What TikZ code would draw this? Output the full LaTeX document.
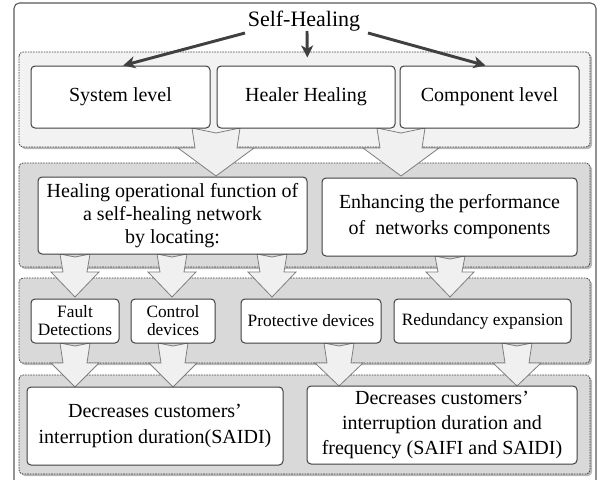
\documentclass[tikz,border=0pt]{standalone}
\usepackage{fontspec}
\setmainfont{Liberation Serif}
\usetikzlibrary{arrows.meta}
\definecolor{framecol}{HTML}{595959}
\definecolor{bandA}{HTML}{F2F2F2}
\definecolor{bandB}{HTML}{D9D9D9}
\definecolor{shadowcol}{HTML}{B8B8B8}
\definecolor{boxline}{HTML}{404040}
\definecolor{arrfill}{HTML}{F0F0F0}
\definecolor{arrline}{HTML}{7F7F7F}
\tikzset{
 bandbox/.style={draw=boxline, dash pattern=on 1.2pt off 0.8pt, line width=0.6pt, rounded corners=3pt},
 textbox/.style={draw=boxline, fill=white, line width=0.75pt, rounded corners=3pt, align=center, inner sep=0pt, font=\fontsize{15}{17.5}\selectfont},
 smallbox/.style={textbox, font=\fontsize{13}{13.5}\selectfont},
 blockarr/.style={draw=arrline, fill=arrfill, line width=0.6pt, line join=miter},
 titlearr/.style={draw=boxline, line width=2.2pt, -{Stealth[length=9pt,width=9pt,inset=2.5pt]}},
}
% cx, ytop, notch, ybase, ytip, shaft top half, shaft bottom half, head half
\newcommand\blkarrow[8]{%
 \path[blockarr] ({#1-#6},#2) -- (#1,{#2+#3}) -- ({#1+#6},#2) -- ({#1+#7},#4) -- ({#1+#8},#4) -- (#1,#5) -- ({#1-#8},#4) -- ({#1-#7},#4) -- cycle;}
% x1, y1, x2, y2, fill
\newcommand\bandrect[5]{%
 \fill[shadowcol, rounded corners=3pt] ({#1+2},{#2+2}) rectangle ({#3+2},{#4+2});
 \path[bandbox, fill=#5] (#1,#2) rectangle (#3,#4);}
\begin{document}
\begin{tikzpicture}[x=0.75pt,y=-0.75pt]
\useasboundingbox (0,0) rectangle (600,479);
\fill[white] (0,0) rectangle (600,479);
% outer frame
\draw[framecol, line width=0.8pt, rounded corners=4pt] (14,485) -- (14,3) -- (596,3) -- (596,485);
% bands
\bandrect{19}{52}{590}{147}{bandA}
\bandrect{19}{163}{590}{267}{bandB}
\bandrect{19}{278}{590}{363}{bandB}
\bandrect{19}{375}{590}{474}{bandB}
% block arrows
\blkarrow{216}{128}{5}{148}{176}{24}{21}{38}
\blkarrow{401}{128}{5}{148}{176}{24}{21}{38}
\blkarrow{75}{254}{3}{272}{297}{15}{12}{24}
\blkarrow{172}{254}{3}{272}{297}{15}{12}{24}
\blkarrow{272}{254}{3}{272}{297}{15}{12}{24}
\blkarrow{450}{256}{3}{272}{297}{15}{12}{24}
\blkarrow{75}{343}{3}{363}{387}{15}{12}{24}
\blkarrow{173}{343}{3}{363}{387}{15}{12}{24}
\blkarrow{339}{343}{3}{363}{386}{15}{12}{24}
\blkarrow{517}{343}{3}{363}{386}{15}{12}{24}
% boxes
\node[textbox, minimum width=134.25pt, minimum height=46.5pt] (sys) at (120.5,97) {System level};
\node[textbox, minimum width=133.5pt, minimum height=46.5pt] (heal) at (306,97) {Healer Healing};
\node[textbox, minimum width=134.25pt, minimum height=46.5pt] (comp) at (489.5,97) {Component level};
\node[textbox, minimum width=201.75pt, minimum height=57.75pt] (hof) at (172.5,215.5) {Healing operational function of\\a self-healing network\\by locating:};
\node[textbox, minimum width=191.25pt, minimum height=58.5pt, font=\fontsize{15}{19.5}\selectfont] (enh) at (449.5,217) {Enhancing the performance\\of\ \ networks components};
\node[smallbox, minimum width=66pt, minimum height=33pt] (fault) at (75,321) {Fault\\Detections};
\node[smallbox, minimum width=63pt, minimum height=33pt] (ctrl) at (173,321) {Control\\devices};
\node[smallbox, minimum width=105pt, minimum height=33pt] (prot) at (311,321) {Protective devices};
\node[smallbox, minimum width=132.75pt, minimum height=33pt] (red) at (482.5,321) {Redundancy expansion};
\node[textbox, minimum width=192pt, minimum height=58.5pt, font=\fontsize{15}{19.5}\selectfont] (dec1) at (155,426) {Decreases customers’\\interruption duration(SAIDI)};
\node[textbox, minimum width=202.5pt, minimum height=58.5pt, font=\fontsize{15}{18.75}\selectfont] (dec2) at (442,425) {Decreases customers’\\interruption duration and\\frequency (SAIFI and SAIDI)};
% title
\node[font=\fontsize{16.5}{19}\selectfont, inner sep=0pt] (title) at (304,21) {Self-Healing};
\coordinate (tl) at (245,33);
\coordinate (tm) at (307,31);
\coordinate (tr) at (368,33);
\draw[titlearr] (tl) -- ([xshift=2pt]sys.north);
\draw[titlearr] (tm) -- ([xshift=1pt,yshift=6pt]heal.north);
\draw[titlearr] (tr) -- ([xshift=-3pt]comp.north);
\end{tikzpicture}
\end{document}
